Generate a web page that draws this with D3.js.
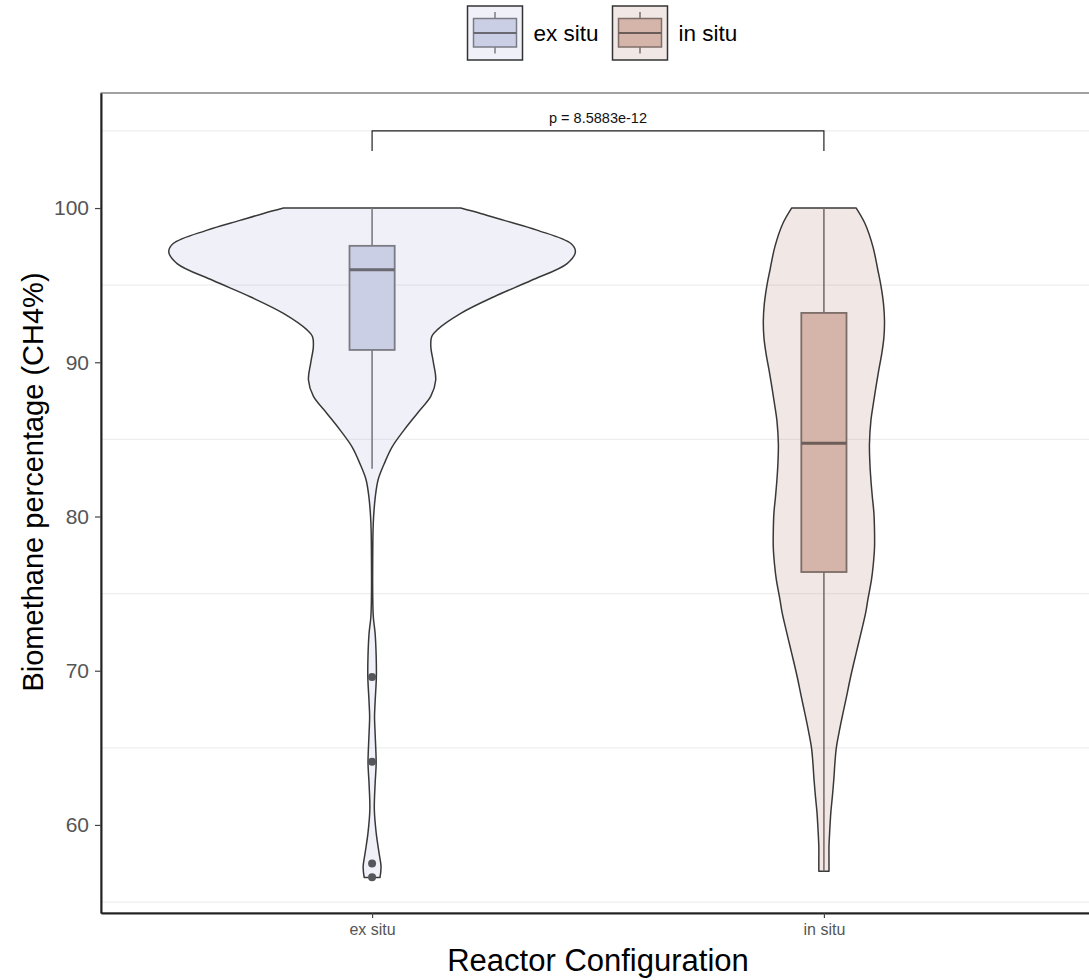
<!DOCTYPE html>
<html>
<head>
<meta charset="utf-8">
<script src="https://cdn.jsdelivr.net/npm/d3@7"></script>
<style>
  html, body { margin: 0; padding: 0; background: #ffffff; }
  svg { display: block; font-family: "Liberation Sans", Arial, Helvetica, sans-serif; }
</style>
</head>
<body>
<svg id="chart" width="1089" height="980"></svg>
<script>
// Reactor configurations on the x axis
const categories = ["ex situ", "in situ"];

// Kernel density profiles: [CH4 %, relative density]
const exSituDensity = [
  [56.6, 0.039], [57.3, 0.044], [58.2, 0.034], [59.5, 0.020], [61.0, 0.011],
  [62.7, 0.015], [64.0, 0.020], [65.9, 0.015], [67.0, 0.012], [68.0, 0.015],
  [69.6, 0.021], [71.0, 0.020], [72.4, 0.015], [73.5, 0.006], [75.0, 0.003],
  [77.0, 0.003], [79.0, 0.0045], [80.0, 0.0075], [81.3, 0.016], [82.4, 0.030],
  [83.4, 0.059], [84.5, 0.098], [85.6, 0.157], [86.7, 0.223], [87.8, 0.289],
  [88.85, 0.313], [89.95, 0.302], [91.0, 0.289], [91.66, 0.293], [92.1, 0.320],
  [93.17, 0.436], [94.25, 0.600], [95.3, 0.782], [96.4, 0.959], [97.17, 1.0],
  [97.7, 0.978], [98.57, 0.811], [99.2, 0.650], [99.65, 0.534], [100.0, 0.436]
];
const inSituDensity = [
  [57.0, 0.025], [57.8, 0.025], [58.6, 0.025], [59.7, 0.029], [60.8, 0.034],
  [61.9, 0.042], [63.0, 0.049], [64.0, 0.054], [65.0, 0.061], [66.1, 0.076],
  [67.2, 0.093], [68.3, 0.111], [69.4, 0.128], [70.5, 0.147], [71.6, 0.167],
  [72.7, 0.187], [73.8, 0.206], [74.6, 0.216], [75.9, 0.234], [76.9, 0.243],
  [78.0, 0.249], [79.0, 0.249], [80.2, 0.246], [81.3, 0.238], [82.4, 0.231],
  [83.5, 0.226], [84.7, 0.224], [86.2, 0.231], [87.3, 0.243], [88.4, 0.256],
  [89.5, 0.270], [90.6, 0.285], [91.6, 0.295], [92.7, 0.298], [93.8, 0.293],
  [95.0, 0.280], [96.0, 0.265], [97.5, 0.241], [99.0, 0.202], [100.0, 0.159]
];

// Box plot summaries per configuration
const whiskerLow  = [83.1, 57.0];
const quartile1   = [90.8, 76.4];
const medians     = [96.0, 84.75];
const quartile3   = [97.55, 93.2];
const whiskerHigh = [100.0, 100.0];
const exSituOutliers = [69.6, 64.1, 57.5, 56.6];

// Axis ticks and the comparison annotation
const yTicks = [60, 70, 80, 90, 100];
const yMinorTicks = [55, 65, 75, 85, 95, 105];
const pValueLabel = "p = 8.5883e-12";
const bracketLevel = 105;
const bracketDrop = 103.7;

const violinFill = ["#b4b9dc", "#b98c82"];
const boxFill = ["#cbcfe6", "#d5b5a9"];
const boxStroke = ["#7b7b84", "#7d6d68"];
const medianStroke = ["#696971", "#6c5d58"];

const svg = d3.select("#chart");
const panelLeft = 101, panelRight = 1095, panelTop = 93, panelBottom = 913;

const y = d3.scaleLinear().domain([54.29, 107.46]).range([panelBottom, panelTop]);
const x = d3.scalePoint().domain(categories).range([panelLeft, panelRight]).padding(0.6);
const step = x.step();
const w = d3.scaleLinear().domain([0, 1]).range([0, step * 0.45]);
const boxHalf = step * 0.05;

// Grid lines between labelled ticks
svg.append("g").selectAll("line").data(yMinorTicks).join("line")
  .attr("x1", panelLeft).attr("x2", panelRight)
  .attr("y1", d => y(d)).attr("y2", d => y(d))
  .attr("stroke", "#eeeeee").attr("stroke-width", 1.3);

// Violins
const densities = [exSituDensity, inSituDensity];
categories.forEach((c, i) => {
  const cx = x(c);
  const area = d3.area()
    .y(d => y(d[0]))
    .x0(d => cx - w(d[1]))
    .x1(d => cx + w(d[1]))
    .curve(d3.curveCatmullRom.alpha(0.5));
  svg.append("path")
    .datum(densities[i])
    .attr("d", area)
    .attr("fill", violinFill[i]).attr("fill-opacity", 0.2)
    .attr("stroke", "#383838").attr("stroke-width", 1.5)
    .attr("stroke-linejoin", "round");
});

// Box plots
categories.forEach((c, i) => {
  const cx = x(c);
  const g = svg.append("g");
  g.append("line").attr("x1", cx).attr("x2", cx)
    .attr("y1", y(quartile3[i])).attr("y2", y(whiskerHigh[i]))
    .attr("stroke", boxStroke[i]).attr("stroke-width", 1.6);
  g.append("line").attr("x1", cx).attr("x2", cx)
    .attr("y1", y(quartile1[i])).attr("y2", y(whiskerLow[i]))
    .attr("stroke", boxStroke[i]).attr("stroke-width", 1.6);
  g.append("rect")
    .attr("x", cx - boxHalf).attr("width", boxHalf * 2)
    .attr("y", y(quartile3[i])).attr("height", y(quartile1[i]) - y(quartile3[i]))
    .attr("fill", boxFill[i]).attr("stroke", boxStroke[i]).attr("stroke-width", 1.8);
  g.append("line")
    .attr("x1", cx - boxHalf).attr("x2", cx + boxHalf)
    .attr("y1", y(medians[i])).attr("y2", y(medians[i]))
    .attr("stroke", medianStroke[i]).attr("stroke-width", 3);
});

// Outlying observations
svg.append("g").selectAll("circle").data(exSituOutliers).join("circle")
  .attr("cx", x("ex situ")).attr("cy", d => y(d)).attr("r", 4)
  .attr("fill", "#55555c");

// Panel border and axes
svg.append("rect").attr("x", panelLeft).attr("y", panelTop)
  .attr("width", panelRight - panelLeft).attr("height", panelBottom - panelTop)
  .attr("fill", "none").attr("stroke", "#444").attr("stroke-width", 1);

const yAxis = d3.axisLeft(y).tickValues(yTicks).tickSizeInner(6).tickSizeOuter(0).tickPadding(6);
const gy = svg.append("g").attr("transform", `translate(${panelLeft},0)`).call(yAxis);
gy.select(".domain").attr("stroke", "#222").attr("stroke-width", 2);
gy.selectAll(".tick line").attr("stroke", "#444").attr("stroke-width", 1.2);
gy.selectAll(".tick text").attr("fill", "#555555").attr("font-size", 21)
  .attr("font-family", "Liberation Sans, Arial, sans-serif");

const xAxis = d3.axisBottom(x).tickSizeInner(5).tickSizeOuter(0).tickPadding(6);
const gx = svg.append("g").attr("transform", `translate(0,${panelBottom})`).call(xAxis);
gx.select(".domain").attr("stroke", "#222").attr("stroke-width", 2);
gx.selectAll(".tick line").attr("stroke", "#444").attr("stroke-width", 1.2);
gx.selectAll(".tick text").attr("fill", "#555555").attr("font-size", 16)
  .attr("font-family", "Liberation Sans, Arial, sans-serif");

// Axis titles
svg.append("text")
  .attr("x", (panelLeft + panelRight) / 2).attr("y", 971)
  .attr("text-anchor", "middle").attr("font-size", 31).attr("fill", "#000")
  .text("Reactor Configuration");
svg.append("text")
  .attr("transform", `translate(43,482) rotate(-90)`)
  .attr("text-anchor", "middle").attr("font-size", 29).attr("fill", "#000")
  .text("Biomethane percentage (CH4%)");

// Significance bracket
const bx0 = x("ex situ"), bx1 = x("in situ");
svg.append("path")
  .attr("d", d3.line()([[bx0, y(bracketDrop)], [bx0, y(bracketLevel)], [bx1, y(bracketLevel)], [bx1, y(bracketDrop)]]))
  .attr("fill", "none").attr("stroke", "#222").attr("stroke-width", 1.2);
svg.append("text")
  .attr("x", (bx0 + bx1) / 2).attr("y", y(bracketLevel) - 8)
  .attr("text-anchor", "middle").attr("font-size", 14.5).attr("fill", "#111")
  .text(pValueLabel);

// Legend
const legend = svg.append("g");
const keyX = [467.5, 612.5];
categories.forEach((c, i) => {
  const k = legend.append("g").attr("transform", `translate(${keyX[i]},6)`);
  k.append("rect").attr("width", 55).attr("height", 54)
    .attr("fill", violinFill[i]).attr("fill-opacity", 0.2)
    .attr("stroke", "#333").attr("stroke-width", 1.5);
  k.append("line").attr("x1", 27.5).attr("x2", 27.5).attr("y1", 6).attr("y2", 12.5)
    .attr("stroke", boxStroke[i]).attr("stroke-width", 1.5);
  k.append("line").attr("x1", 27.5).attr("x2", 27.5).attr("y1", 41).attr("y2", 47.5)
    .attr("stroke", boxStroke[i]).attr("stroke-width", 1.5);
  k.append("rect").attr("x", 6).attr("y", 12.5).attr("width", 43).attr("height", 28.5)
    .attr("fill", boxFill[i]).attr("stroke", boxStroke[i]).attr("stroke-width", 1.5);
  k.append("line").attr("x1", 6).attr("x2", 49).attr("y1", 27).attr("y2", 27)
    .attr("stroke", medianStroke[i]).attr("stroke-width", 2);
  legend.append("text").attr("x", keyX[i] + 66).attr("y", 41)
    .attr("font-size", 22.5).attr("fill", "#000").text(c);
});
</script>
</body>
</html>
